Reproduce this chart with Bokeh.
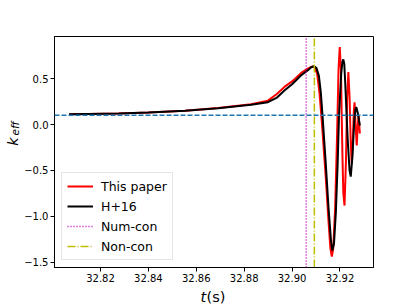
import math
from bokeh.plotting import figure
from bokeh.layouts import row, column
from bokeh.models import Range1d, FixedTicker, CustomJSTickFormatter, Legend, LegendItem, Label, Span
from bokeh.embed import file_html
from bokeh.resources import INLINE

# --- data ---
t_h16 = [32.8069, 32.815, 32.8276, 32.840, 32.8553, 32.8691, 32.8829, 32.8899, 32.8935,
         32.8968, 32.900, 32.9037, 32.9065, 32.9080, 32.9092, 32.9102, 32.9112, 32.9120,
         32.9127, 32.9140, 32.9152, 32.9162, 32.9168, 32.9175, 32.9183, 32.9190, 32.9196,
         32.9205, 32.9210, 32.9214, 32.9218, 32.9222, 32.9232, 32.9240, 32.9245, 32.9252,
         32.9260, 32.9265, 32.9268, 32.9275, 32.9283]
k_h16 = [0.112, 0.115, 0.120, 0.130, 0.149, 0.178, 0.215, 0.243, 0.29,
         0.371, 0.44, 0.535, 0.59, 0.625, 0.636, 0.615, 0.53, 0.35,
         0.10, -0.40, -0.90, -1.25, -1.376, -1.30, -0.95, -0.45, 0.098,
         0.55, 0.68, 0.71, 0.66, 0.45, -0.15, -0.50, -0.568, -0.35,
         0.05, 0.17, 0.19, 0.12, -0.011]

t_paper = [32.8069, 32.815, 32.8276, 32.840, 32.8553, 32.8691, 32.8829, 32.8899, 32.8935,
           32.8968, 32.900, 32.9037, 32.9065, 32.9085, 32.9095, 32.9105, 32.9115, 32.9125,
           32.9140, 32.9152, 32.9160, 32.9166, 32.9172, 32.9180, 32.9188, 32.9194, 32.9199,
           32.9204, 32.9210, 32.9214, 32.9219, 32.9225, 32.9230, 32.9235, 32.9240, 32.9245,
           32.9249, 32.9254, 32.9258, 32.9261, 32.9265, 32.9270, 32.9275, 32.9278, 32.9283]
k_paper = [0.112, 0.115, 0.120, 0.131, 0.150, 0.180, 0.220, 0.26, 0.33,
           0.41, 0.47, 0.56, 0.61, 0.635, 0.62, 0.55, 0.33, 0.0,
           -0.55, -1.05, -1.35, -1.441, -1.35, -0.9, -0.1, 0.6, 0.844,
           0.6, -0.3, -0.75, -0.884, -0.4, 0.3, 0.571, 0.3, -0.2,
           -0.426, -0.15, 0.15, 0.243, 0.0, -0.229, 0.02, 0.10, -0.098]

k_ref_level = 0.1
num_con_t = 32.9059
non_con_t = 32.9093

x_ticks = [32.82, 32.84, 32.86, 32.88, 32.90, 32.92]
y_ticks = [-1.5, -1.0, -0.5, 0.0, 0.5]

X_LO, X_HI = 32.8008, 32.934
Y_LO, Y_HI = -1.56, 0.96

FONT = "DejaVu Sans"
NUM_STYLE = dict(line_color="#bf00bf", line_width=1.5, line_dash="1 2")
NON_STYLE = dict(line_color="#bfbf00", line_width=1.5, line_dash="8 2 1 2")

LEFT_W = 21
MAIN_H = 287
TOTAL_W, TOTAL_H = 415, 305

# ---------------- main plot ----------------
p = figure(width=TOTAL_W - LEFT_W, height=MAIN_H, output_backend="svg", toolbar_location=None,
           x_range=Range1d(X_LO, X_HI), y_range=Range1d(Y_LO, Y_HI),
           min_border_left=31, min_border_right=42, min_border_top=36, min_border_bottom=20,
           background_fill_color="white", border_fill_color="white")
p.grid.visible = False
p.outline_line_color = "black"
p.outline_line_width = 1
p.outline_line_alpha = 1

for ax in (p.xaxis[0], p.yaxis[0]):
    ax.axis_line_color = "black"
    ax.major_tick_line_color = "black"
    ax.major_tick_out = 4
    ax.major_tick_in = 0
    ax.minor_tick_line_color = None
    ax.major_label_text_font = FONT
    ax.major_label_text_font_size = "10px"
    ax.major_label_text_color = "black"
    ax.axis_label = None

p.xaxis[0].ticker = FixedTicker(ticks=x_ticks)
p.yaxis[0].ticker = FixedTicker(ticks=y_ticks)
p.xaxis[0].formatter = CustomJSTickFormatter(code="return tick.toFixed(2).replace('-', '\u2212');")
p.yaxis[0].formatter = CustomJSTickFormatter(code="return tick.toFixed(1).replace('-', '\u2212');")
p.xaxis[0].major_label_standoff = 2
p.yaxis[0].major_label_standoff = 2

p.add_layout(Span(location=k_ref_level, dimension="width", line_color="#1f77b4",
                  line_width=1.5, line_dash="5 2"))

r_paper = p.line(t_paper, k_paper, line_color="red", line_width=2)
r_h16 = p.line(t_h16, k_h16, line_color="black", line_width=2)
r_num = p.line([num_con_t, num_con_t], [Y_LO, Y_HI], **NUM_STYLE)
r_non = p.line([non_con_t, non_con_t], [Y_LO, Y_HI], **NON_STYLE)

legend = Legend(items=[
    LegendItem(label="This paper", renderers=[r_paper]),
    LegendItem(label="H+16", renderers=[r_h16]),
    LegendItem(label="Num-con", renderers=[r_num]),
    LegendItem(label="Non-con", renderers=[r_non]),
], location="bottom_left")
legend.margin = 7
legend.padding = 5
legend.spacing = 4
legend.glyph_width = 26
legend.glyph_height = 16
legend.label_height = 16
legend.label_standoff = 8
legend.label_text_font = FONT
legend.label_text_font_size = "12.5px"
legend.label_text_color = "black"
legend.label_text_baseline = "middle"
legend.border_line_color = "#cccccc"
legend.border_line_width = 1
legend.background_fill_alpha = 0.8
p.add_layout(legend)


def text_strip(w, h):
    f = figure(width=w, height=h, output_backend="svg", toolbar_location=None,
               x_range=Range1d(0, 1), y_range=Range1d(0, 1),
               x_axis_type=None, y_axis_type=None, min_border=0,
               background_fill_color="white", border_fill_color="white")
    f.grid.visible = False
    f.outline_line_color = None
    return f


# ---------------- y label strip (k_eff) ----------------
left = text_strip(LEFT_W, MAIN_H)
left.add_layout(Label(x=12, y=MAIN_H - 161, x_units="screen", y_units="screen", text="k",
                      text_font=FONT, text_font_style="italic", text_font_size="14.5px",
                      text_color="black", text_baseline="middle", text_align="center",
                      angle=math.pi / 2))
left.add_layout(Label(x=14, y=MAIN_H - 148, x_units="screen", y_units="screen", text="eff",
                      text_font=FONT, text_font_style="italic", text_font_size="10.5px",
                      text_color="black", text_baseline="middle", text_align="center",
                      angle=math.pi / 2))

# ---------------- x label strip (t(s)) ----------------
bottom = text_strip(TOTAL_W, TOTAL_H - MAIN_H)
bottom.add_layout(Label(x=200, y=9, x_units="screen", y_units="screen", text="t",
                        text_font=FONT, text_font_style="italic", text_font_size="14.5px",
                        text_color="black", text_baseline="middle", text_align="left"))
bottom.add_layout(Label(x=206, y=9, x_units="screen", y_units="screen", text="(s)",
                        text_font=FONT, text_font_size="14.5px",
                        text_color="black", text_baseline="middle", text_align="left"))

layout = column(row(left, p, spacing=0), bottom, spacing=0)

open("out.html", "w").write(file_html(layout, INLINE))
